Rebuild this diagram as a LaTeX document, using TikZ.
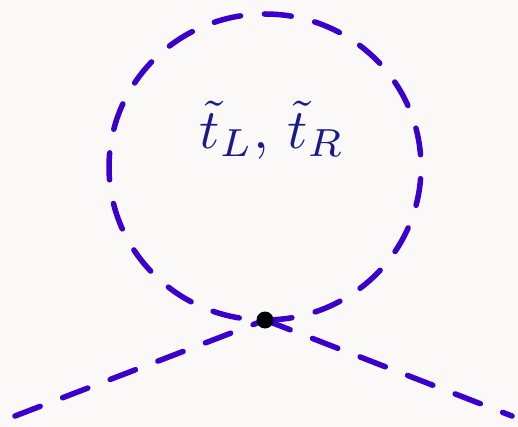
\documentclass[tikz,border=0pt]{standalone}
\usepackage{xcolor}
\definecolor{linecol}{HTML}{3A00CC}
\definecolor{textcol}{HTML}{1A1A8C}
\definecolor{bgcol}{HTML}{FAF9F7}
\tikzset{
  scalar/.style={draw=linecol, line width=5.5pt, line cap=round, dash pattern=on 27pt off 24pt},
  vertexdot/.style={circle, fill=black, inner sep=0pt, minimum size=17pt}
}
\begin{document}
\begin{tikzpicture}[x=1pt,y=-1pt]
\fill[bgcol] (0,0) rectangle (518,427);
\useasboundingbox (0,0) rectangle (518,427);
\coordinate (v) at (265,320);
\coordinate (c) at (265,168);
\coordinate (l) at (15,416);
\coordinate (r) at (512,416);
\draw[scalar] (v) arc[start angle=-90, end angle=270, x radius=156pt, y radius=153pt];
\draw[scalar] (l) -- (v);
\draw[scalar] (v) -- (r);
\node[vertexdot] (dot) at (v) {};
\node[text=textcol, scale=5.6] (lbl) at (272,130) {$\tilde t_L,\,\tilde t_R$};
\end{tikzpicture}
\end{document}
